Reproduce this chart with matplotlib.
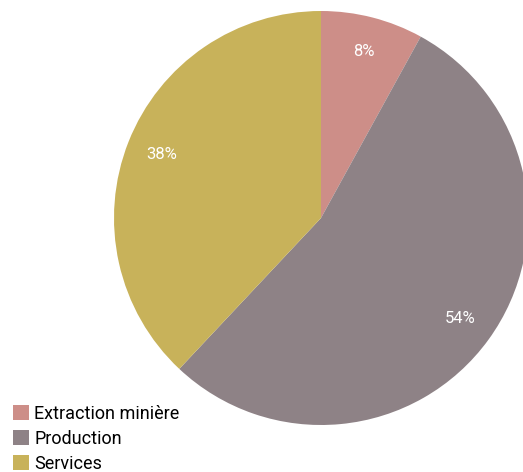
import matplotlib.pyplot as plt
from matplotlib.patches import Patch

# Data
categories = ['Extraction minière', 'Production', 'Services']
shares = [8, 54, 38]
colors = ['#CD8E88', '#8E8286', '#C8B25A']

plt.rcParams['font.family'] = ['Roboto', 'DejaVu Sans']

fig = plt.figure(figsize=(5.23, 4.72), dpi=100)
ax = fig.add_axes([0, 0, 1, 1])

wedges, texts, autotexts = ax.pie(shares, colors=colors, startangle=90, counterclock=False,
                                  center=(321, 254), radius=207, autopct='%d%%',
                                  pctdistance=0.83, textprops={'color': 'white', 'fontsize': 12})

# pie() resets the limits, so set them afterwards (1 unit = 1 pixel)
ax.set_xlim(0, 523)
ax.set_ylim(0, 472)
ax.set_aspect('equal')
ax.axis('off')

# Legend at bottom left
handles = [Patch(facecolor=c, edgecolor='none') for c in colors]
fig.legend(handles, categories, loc='lower left', bbox_to_anchor=(0.0, -0.029),
           frameon=False, fontsize=13, handlelength=0.9, handleheight=0.9,
           handletextpad=0.3, labelspacing=0.4, borderpad=0.2)

fig.savefig('out.png', dpi=100)
